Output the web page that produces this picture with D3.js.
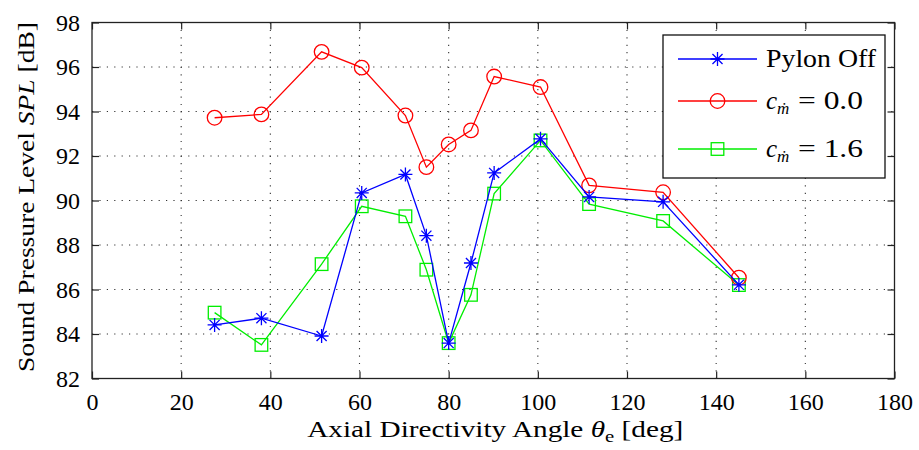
<!DOCTYPE html>
<html>
<head>
<meta charset="utf-8">
<script src="https://cdn.jsdelivr.net/npm/d3@7"></script>
<style>
  body { margin: 0; background: #fff; }
  svg text { font-family: "Liberation Serif", "DejaVu Serif", "Noto Serif", Tinos, "Times New Roman", Times, serif; fill: #000; }
</style>
</head>
<body>
<div id="chart"></div>
<script>
// axial directivity angles [deg]
const angles = [27.5, 38, 51.5, 60.5, 70.3, 75, 80, 85, 90.2, 100.6, 111.5, 128.1, 145.1];
// SPL [dB] per configuration
const pylonOff = [84.41, 84.71, 83.91, 90.34, 91.17, 88.42, 83.59, 87.19, 91.24, 92.77, 90.16, 89.94, 86.21];
const cm00 = [93.72, 93.87, 96.68, 95.97, 93.82, 91.5, 92.52, 93.15, 95.57, 95.1, 90.68, 90.37, 86.53];
const cm16 = [84.96, 83.51, 87.14, 89.74, 89.29, 86.89, 83.59, 85.76, 90.31, 92.7, 89.84, 89.08, 86.2];
const xTicks = [0, 20, 40, 60, 80, 100, 120, 140, 160, 180];
const yTicks = [82, 84, 86, 88, 90, 92, 94, 96, 98];

const width = 919, height = 450;
const margin = { top: 22.5, right: 24.5, bottom: 71.5, left: 92 };
const serif = '"Liberation Serif", "DejaVu Serif", "Noto Serif", Tinos, "Times New Roman", Times, serif';

const svg = d3.select("#chart").append("svg")
  .attr("width", width)
  .attr("height", height)
  .attr("font-family", serif);

const x = d3.scaleLinear().domain([0, 180]).range([margin.left, width - margin.right]);
const y = d3.scaleLinear().domain([82, 98]).range([height - margin.bottom, margin.top]);

// dotted grid
const grid = svg.append("g")
  .attr("stroke", "#333")
  .attr("stroke-width", 1.1)
  .attr("stroke-dasharray", "1.2,6.2");

grid.selectAll(".vg")
  .data(xTicks.slice(1, -1))
  .enter().append("line")
  .attr("x1", d => x(d)).attr("x2", d => x(d))
  .attr("y1", y(98)).attr("y2", y(82));

grid.selectAll(".hg")
  .data(yTicks.slice(1, -1))
  .enter().append("line")
  .attr("x1", x(0)).attr("x2", x(180))
  .attr("y1", d => y(d)).attr("y2", d => y(d));

// axes, ticks on all four sides pointing inward
const tickLen = 7;
const axisCol = "#222";

function styleAxis(g) {
  g.attr("font-family", serif);
  g.select(".domain").remove();
  g.selectAll("line").attr("stroke", axisCol).attr("stroke-width", 1.2);
  g.selectAll("text").attr("font-size", 24).attr("font-family", serif).attr("fill", "#000");
}

svg.append("g")
  .attr("transform", `translate(0,${y(82)})`)
  .call(d3.axisBottom(x).tickValues(xTicks).tickSizeInner(-tickLen).tickSizeOuter(0).tickPadding(14))
  .call(styleAxis);

svg.append("g")
  .attr("transform", `translate(0,${y(98)})`)
  .call(d3.axisTop(x).tickValues(xTicks).tickSizeInner(-tickLen).tickSizeOuter(0).tickFormat(""))
  .call(styleAxis);

svg.append("g")
  .attr("transform", `translate(${x(0)},0)`)
  .call(d3.axisLeft(y).tickValues(yTicks).tickSizeInner(-tickLen).tickSizeOuter(0).tickPadding(12))
  .call(styleAxis);

svg.append("g")
  .attr("transform", `translate(${x(180)},0)`)
  .call(d3.axisRight(y).tickValues(yTicks).tickSizeInner(-tickLen).tickSizeOuter(0).tickFormat(""))
  .call(styleAxis);

svg.append("rect")
  .attr("x", x(0)).attr("y", y(98))
  .attr("width", x(180) - x(0)).attr("height", y(82) - y(98))
  .attr("fill", "none")
  .attr("stroke", axisCol)
  .attr("stroke-width", 1.3);

// axis titles
const xTitle = svg.append("text")
  .attr("x", (x(0) + x(180)) / 2 + 2)
  .attr("y", 437)
  .attr("text-anchor", "middle")
  .attr("font-size", 24)
  .attr("textLength", 376)
  .attr("lengthAdjust", "spacingAndGlyphs");
xTitle.append("tspan").text("Axial Directivity Angle ");
xTitle.append("tspan").attr("font-style", "italic").text("θ");
xTitle.append("tspan").attr("font-size", 17).attr("dy", 5).text("e");
xTitle.append("tspan").attr("dy", -5).text(" [deg]");

const yTitle = svg.append("text")
  .attr("transform", `translate(34,${(372 + 22) / 2}) rotate(-90)`)
  .attr("text-anchor", "middle")
  .attr("font-size", 24)
  .attr("textLength", 350)
  .attr("lengthAdjust", "spacingAndGlyphs");
yTitle.append("tspan").text("Sound Pressure Level ");
yTitle.append("tspan").attr("font-style", "italic").text("SPL");
yTitle.append("tspan").text(" [dB]");

// series
const series = [
  { name: "Pylon Off", values: pylonOff, color: "#0000ff", marker: "star" },
  { name: "c0", values: cm00, color: "#ff0000", marker: "circle" },
  { name: "c16", values: cm16, color: "#00ee00", marker: "square" }
];

const line = d3.line()
  .x(d => x(d[0]))
  .y(d => y(d[1]));

function drawMarker(g, type, color) {
  if (type === "circle") {
    g.append("circle").attr("r", 7.3)
      .attr("fill", "none").attr("stroke", color).attr("stroke-width", 1.3);
  } else if (type === "square") {
    g.append("rect").attr("x", -6.3).attr("y", -6.3).attr("width", 12.6).attr("height", 12.6)
      .attr("fill", "none").attr("stroke", color).attr("stroke-width", 1.3);
  } else {
    const r = 7;
    const d = r * 0.72;
    g.append("path")
      .attr("d", `M0,${-r}V${r}M${-r},0H${r}M${-d},${-d}L${d},${d}M${-d},${d}L${d},${-d}`)
      .attr("stroke", color).attr("stroke-width", 1.3).attr("fill", "none");
  }
}

// draw in reverse so blue is on top
[series[2], series[1], series[0]].forEach(s => {
  const pts = angles.map((a, i) => [a, s.values[i]]);
  svg.append("path")
    .datum(pts)
    .attr("d", line)
    .attr("fill", "none")
    .attr("stroke", s.color)
    .attr("stroke-width", 1.3);

  svg.selectAll(null)
    .data(pts)
    .enter().append("g")
    .attr("transform", d => `translate(${x(d[0])},${y(d[1])})`)
    .each(function () { drawMarker(d3.select(this), s.marker, s.color); });
});

// legend
const lg = svg.append("g");
lg.append("rect")
  .attr("x", 663).attr("y", 35)
  .attr("width", 222).attr("height", 143)
  .attr("fill", "#fff")
  .attr("stroke", "#111")
  .attr("stroke-width", 1.3);

const rowsY = [59, 101, 149];
series.forEach((s, i) => {
  const ry = rowsY[i];
  lg.append("line")
    .attr("x1", 678).attr("x2", 757)
    .attr("y1", ry).attr("y2", ry)
    .attr("stroke", s.color).attr("stroke-width", 1.3);
  const mg = lg.append("g").attr("transform", `translate(717.5,${ry})`);
  drawMarker(mg, s.marker, s.color);
});

lg.append("text")
  .attr("x", 766).attr("y", rowsY[0] + 8)
  .attr("font-size", 25)
  .attr("textLength", 110)
  .attr("lengthAdjust", "spacingAndGlyphs")
  .text("Pylon Off");

["0.0", "1.6"].forEach((v, i) => {
  const t = lg.append("text")
    .attr("x", 766).attr("y", rowsY[i + 1] + 8)
    .attr("font-size", 25);
  t.append("tspan").attr("font-style", "italic").text("c");
  t.append("tspan").attr("font-style", "italic").attr("font-size", 17).attr("dy", 5).text("ṁ");
  t.append("tspan").attr("dy", -5).attr("x", 798).attr("textLength", 65).attr("lengthAdjust", "spacingAndGlyphs").text("= " + v);
});
</script>
</body>
</html>
